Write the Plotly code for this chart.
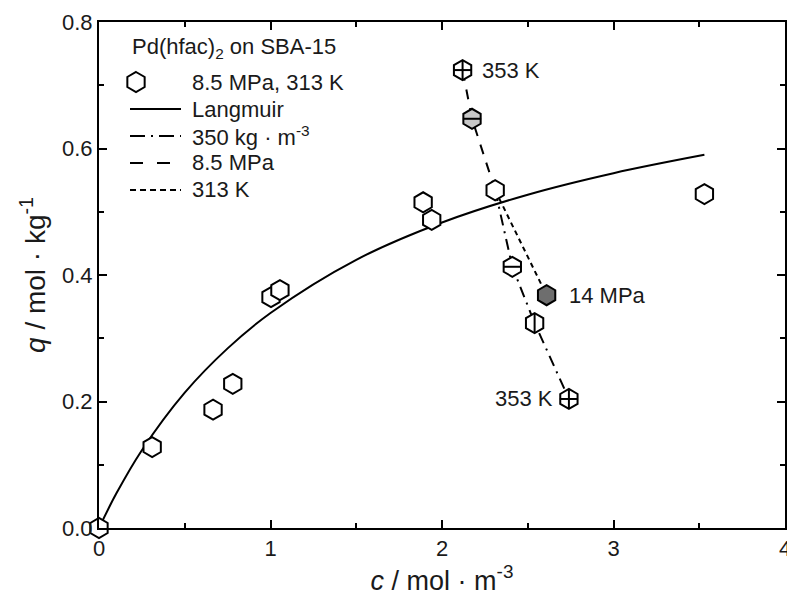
import plotly.graph_objects as go

# Isotherm data: 8.5 MPa, 313 K
c_iso = [0.0, 0.31, 0.665, 0.78, 1.003, 1.055, 1.89, 1.94, 2.31, 3.53]
q_iso = [0.0, 0.128, 0.187, 0.228, 0.365, 0.376, 0.515, 0.487, 0.534, 0.528]

# Langmuir curve
c_lang = [0.0, 0.1, 0.25, 0.5, 0.75, 1.0, 1.5, 2.0, 2.5, 3.0, 3.53]
q_lang = [0.0, 0.054, 0.123, 0.214, 0.284, 0.340, 0.424, 0.483, 0.527, 0.561, 0.590]

# Constant density 350 kg/m3
c_dens = [2.31, 2.41, 2.54, 2.74]
q_dens = [0.534, 0.413, 0.324, 0.204]

# Constant pressure 8.5 MPa
c_pres = [2.31, 2.175, 2.12]
q_pres = [0.534, 0.647, 0.724]

# Constant temperature 313 K
c_temp = [2.31, 2.61]
q_temp = [0.534, 0.368]

# Special points
c_333_p, q_333_p = [2.175], [0.647]
c_353_p, q_353_p = [2.12], [0.724]
c_333_d, q_333_d = [2.41], [0.413]
c_343_d, q_343_d = [2.54], [0.324]
c_353_d, q_353_d = [2.74], [0.204]
c_14, q_14 = [2.61], [0.368]

labels = ["353 K", "14 MPa", "353 K"]
legend_title = "Pd(hfac)<sub>2</sub> on SBA-15"
legend_labels = ["8.5 MPa, 313 K", "Langmuir", "350 kg · m<sup>-3</sup>", "8.5 MPa", "313 K"]

FONT = "Liberation Sans, Arial, sans-serif"
TXT = "#1a1a1a"
BLACK = "#000000"
MS = 20

DASH_DENS = "11px,6px,2px,6px"
DASH_PRES = "10px,9px"
DASH_TEMP = "5px,4px"
DASH_DENS_LEG = "15px,6px,2px,6px"
DASH_PRES_LEG = "13px,14px"
DASH_TEMP_LEG = "6px,4px"

fig = go.Figure()

# lines
fig.add_trace(go.Scatter(x=c_lang, y=q_lang, mode="lines", line=dict(color=BLACK, width=2, shape="spline"),
                         showlegend=False))
fig.add_trace(go.Scatter(x=c_dens, y=q_dens, mode="lines", line=dict(color=BLACK, width=2, dash=DASH_DENS),
                         showlegend=False))
fig.add_trace(go.Scatter(x=c_pres, y=q_pres, mode="lines", line=dict(color=BLACK, width=2, dash=DASH_PRES),
                         showlegend=False))
fig.add_trace(go.Scatter(x=c_temp, y=q_temp, mode="lines", line=dict(color=BLACK, width=2, dash=DASH_TEMP),
                         showlegend=False))

hexline = dict(color=BLACK, width=2)
fig.add_trace(go.Scatter(x=c_iso, y=q_iso, mode="markers", showlegend=False, cliponaxis=False,
                         marker=dict(symbol="hexagon", size=MS, color="white", line=hexline)))


def special(x, y, fill, inner):
    fig.add_trace(go.Scatter(x=x, y=y, mode="markers", showlegend=False, cliponaxis=False,
                             marker=dict(symbol="hexagon", size=MS, color=fill, line=hexline)))
    for sym in inner:
        fig.add_trace(go.Scatter(x=x, y=y, mode="markers", showlegend=False, cliponaxis=False,
                                 marker=dict(symbol=sym, size=13, color=BLACK,
                                             line=dict(color=BLACK, width=2))))


special(c_353_p, q_353_p, "white", ["line-ew", "line-ns"])
special(c_333_p, q_333_p, "#c8c8c8", ["line-ew"])
special(c_333_d, q_333_d, "white", ["line-ew"])
special(c_343_d, q_343_d, "white", ["line-ns"])
special(c_353_d, q_353_d, "white", ["line-ew", "line-ns"])
special(c_14, q_14, "#6e6e6e", [])

afont = dict(family=FONT, size=22, color=TXT)
fig.add_annotation(x=c_353_p[0], y=q_353_p[0], text=labels[0], showarrow=False, xanchor="left", xshift=17, font=afont)
fig.add_annotation(x=c_14[0], y=q_14[0], text=labels[1], showarrow=False, xanchor="left", xshift=20, font=afont)
fig.add_annotation(x=c_353_d[0], y=q_353_d[0], text=labels[2], showarrow=False, xanchor="right", xshift=-14, font=afont)

# manual legend (paper coordinates)
L, T, W, H = 99, 22, 686, 506


def px(xp):
    return (xp - L) / W


def py(yp):
    return (T + H - yp) / H


lfont = dict(family=FONT, size=22, color=TXT)
fig.add_annotation(xref="paper", yref="paper", x=px(130), y=py(48), text=legend_title, showarrow=False,
                   xanchor="left", yanchor="middle", font=lfont)
rows = [82, 109, 136, 163, 190]
for i, lab in enumerate(legend_labels):
    fig.add_annotation(xref="paper", yref="paper", x=px(190), y=py(rows[i]), text=lab, showarrow=False,
                       xanchor="left", yanchor="middle", font=lfont)
# hexagon symbol
fig.add_shape(type="path", xref="paper", yref="paper", xsizemode="pixel", ysizemode="pixel",
              xanchor=px(136), yanchor=py(rows[0]),
              path="M0,10 L8.66,5 L8.66,-5 L0,-10 L-8.66,-5 L-8.66,5 Z",
              line=dict(color=BLACK, width=2), fillcolor="white")
for i, dash in zip([1, 2, 3, 4], ["solid", DASH_DENS_LEG, DASH_PRES_LEG, DASH_TEMP_LEG]):
    fig.add_shape(type="line", xref="paper", yref="paper", x0=px(130), x1=px(181), y0=py(rows[i]), y1=py(rows[i]),
                  line=dict(color=BLACK, width=2, dash=dash))

axis_common = dict(showline=True, linecolor=BLACK, linewidth=2, mirror="ticks", ticks="inside",
                   ticklen=8, tickwidth=1.5, tickcolor=BLACK, showgrid=False, zeroline=False,
                   ticklabeloverflow="allow", automargin=False,
                   tickfont=dict(family=FONT, size=22, color=TXT))

fig.update_layout(
    width=787, height=606,
    margin=dict(l=L, r=787 - L - W, t=T, b=606 - T - H),
    plot_bgcolor="white", paper_bgcolor="white",
    font=dict(family=FONT, color=TXT),
    showlegend=False,
    xaxis=dict(range=[0, 4], tickvals=[0, 1, 2, 3, 4],
               minor=dict(ticks="inside", ticklen=5, dtick=0.5, tickcolor=BLACK),
               title=dict(text="<i>c</i> / mol · m<sup>-3</sup>", font=dict(size=27, color=TXT), standoff=6),
               **axis_common),
    yaxis=dict(range=[0, 0.8], dtick=0.2, tickformat=".1f",
               minor=dict(ticks="inside", ticklen=5, dtick=0.1, tickcolor=BLACK),
               title=dict(text="<i>q</i> / mol · kg<sup>-1</sup>", font=dict(size=28, color=TXT), standoff=8),
               **axis_common),
)

fig.write_html("out.html")
